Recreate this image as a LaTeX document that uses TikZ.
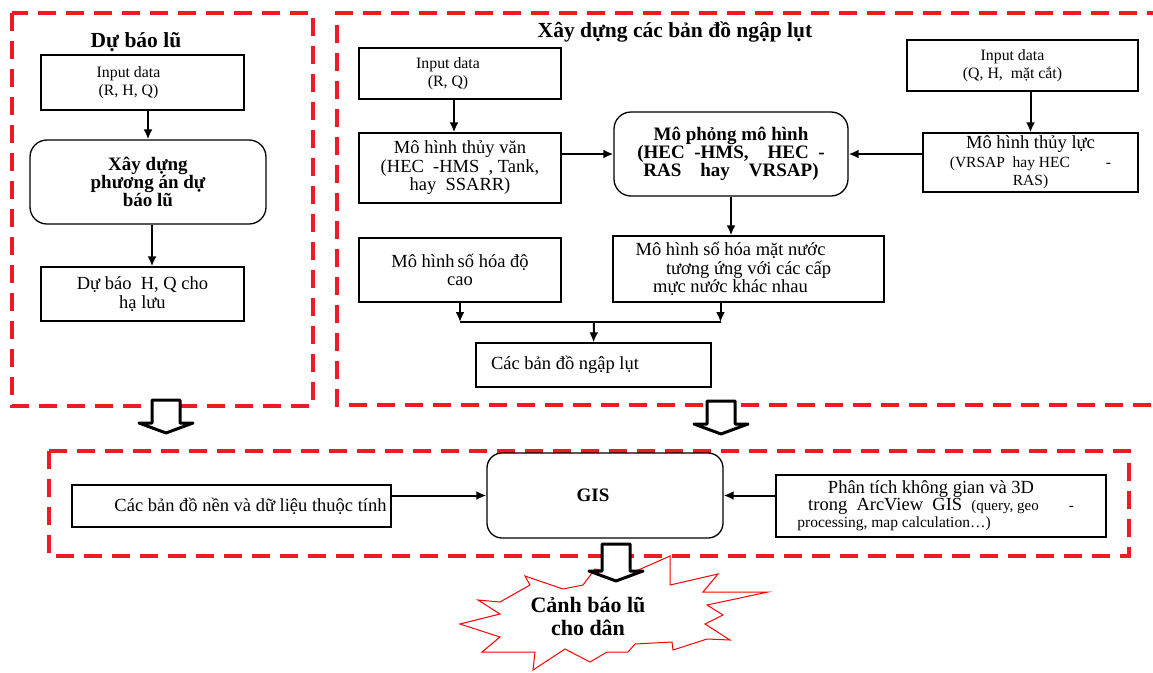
\documentclass[tikz,border=0pt]{standalone}
\usepackage{fontspec}
\setmainfont{Liberation Serif}
\usetikzlibrary{arrows.meta}
\definecolor{dashred}{RGB}{237,28,36}

\begin{document}
\begin{tikzpicture}[x=1pt,y=-1pt]
\tikzstyle{every node}=[inner sep=0pt, align=center]
\tikzstyle{box}=[draw, line width=1.3pt, font=\fontsize{18.5}{18.5}\selectfont]
\tikzstyle{inbox}=[box, font=\fontsize{15.8}{18.5}\selectfont]
\tikzstyle{rbox}=[box, rounded corners=17pt, font=\bfseries\fontsize{19}{18}\selectfont]
\tikzstyle{ttl}=[font=\bfseries\fontsize{21.5}{23}\selectfont]
\tikzstyle{zone}=[draw=dashred, line width=4pt, dash pattern=on 18pt off 10pt]
\tikzstyle{link}=[-{Latex[length=10pt,width=9pt]}, line width=2pt]
\tikzstyle{hollow}=[draw, line width=3pt, fill=white, line join=round]
\useasboundingbox (0,0) rectangle (1153,672);

% dashed zones
\draw[zone] (12,13) rectangle (313,406);
\draw[zone] (1165,13) -- (337,13) -- (337,405) -- (1165,405);
\draw[zone] (49,451) rectangle (1129,556);

% left: flood forecast
\node[ttl] (t1) at (136,42) {Dự báo lũ};
\node[inbox, minimum width=203, minimum height=55] (inRHQ) at (142.5,82.5)
  {Input data\hspace*{28pt}\\(R, H, Q)\hspace*{28pt}};
\node[rbox, minimum width=236, minimum height=84] (plan) at (148,182)
  {Xây dựng\\phương án dự\\báo lũ};
\node[box, minimum width=203, minimum height=54] (fcHQ) at (142.5,294)
  {Dự báo\enspace H, Q\ cho\\hạ lưu};
\draw[link] (plan.north |- inRHQ.south) -- (plan.north);
\draw[link] ([xshift=4pt]plan.south) -- ([xshift=4pt]plan.south |- fcHQ.north);

% right: flood maps
\node[ttl] (t2) at (675,32) {Xây dựng các bản đồ ngập lụt};
\node[inbox, minimum width=202, minimum height=51] (inRQ) at (460,73.5)
  {Input data\hspace*{24pt}\\(R, Q)\hspace*{24pt}};
\node[box, minimum width=202, minimum height=70] (hydro) at (460,168)
  {Mô hình thủy văn\\(HEC\enspace-HMS\enspace, Tank,\\hay\enspace SSARR)};
\node[rbox, minimum width=234, minimum height=84] (sim) at (731,154)
  {Mô phỏng mô hình\\(HEC\enspace-HMS,\quad HEC\enspace-\\RAS\quad hay\quad VRSAP)};
\node[inbox, minimum width=231, minimum height=51] (inQH) at (1022.5,65.5)
  {Input data\hspace*{20pt}\\(Q, H,\ \ mặt cắt)\hspace*{20pt}};
\node[box, minimum width=215, minimum height=59] (hydra) at (1030.5,162.5)
  {Mô hình thủy lực\\{\fontsize{15.5}{17}\selectfont(VRSAP\ \ hay HEC\hspace{36pt}-}\\{\fontsize{15.5}{17}\selectfont RAS)}};
\node[box, minimum width=202, minimum height=64] (dem) at (460,270)
  {Mô hình\,số hóa độ\\cao};
\node[box, minimum width=271, minimum height=66] (wsm) at (748.5,269)
  {Mô hình số hóa mặt nước\hspace*{36pt}\\tương ứng với các cấp\hspace*{36pt}\\mực nước khác nhau\hspace*{36pt}};
\node[box, minimum width=235, minimum height=44] (maps) at (593.5,365)
  {Các bản đồ ngập lụt\hspace*{57pt}};
\coordinate (jn) at (594,322);
\draw[link] (inRQ.south -| 454,0) -- (hydro.north -| 454,0);
\draw[link] (hydro.east |- sim.west) -- (sim.west);
\draw[link] (hydra.north |- inQH.south) -- (hydra.north);
\draw[link] (hydra.west |- sim.east) -- (sim.east);
\draw[link] (sim.south) -- (sim.south |- wsm.north);
\draw[line width=2pt] (dem.south |- jn) -- ([xshift=-28pt]wsm.south |- jn);
\draw[link] (dem.south) -- (dem.south |- jn);
\draw[link] ([xshift=-28pt]wsm.south) -- ([xshift=-28pt]wsm.south |- jn);
\draw[link] (jn) -- (maps.north);

% bottom: GIS
\node[box, minimum width=319, minimum height=42] (base) at (231.5,506)
  {\hspace*{38pt}Các bản đồ nền và dữ liệu thuộc tính};
\node[rbox, minimum width=236, minimum height=85, rounded corners=15pt] (gis) at (605,495.5)
  {GIS\hspace*{24pt}};
\node[box, minimum width=330, minimum height=62, font=\fontsize{18.5}{17}\selectfont] (spat) at (941,506)
  {Phân tích không gian và 3D\hspace*{20pt}\\trong\ \ ArcView\ \ GIS\ \ {\fontsize{15}{17}\selectfont(query, geo\hspace{30pt}-}\\{\fontsize{15.5}{17}\selectfont processing, map calculation…)}\hspace*{94pt}};
\draw[link] (base.east |- gis.west) -- (gis.west);
\draw[link] (spat.west |- gis.east) -- (gis.east);

% warning burst
\draw[red, line width=1pt, fill=white] (525,576) -- (563,589) -- (583,585) -- (595,569)
  -- (627,575) -- (670,556) -- (670,585) -- (718,574) -- (703,592) -- (768,592)
  -- (707,605) -- (723,615) -- (705,624) -- (730,640) -- (707,639) -- (673,650)
  -- (672,642) -- (635,644) -- (628,652) -- (607,652) -- (590,662) -- (565,649)
  -- (533,670) -- (535,652) -- (482,652) -- (500,637) -- (460,624) -- (500,614)
  -- (478,600) -- (500,602) -- (530,585) -- cycle;

% hollow arrows
\foreach \x/\y/\l in {166/400/33, 721/401/33, 616/544/37}
  \draw[hollow] (\x-14,\y) -- (\x+14,\y) -- (\x+14,\y+\l-10) -- (\x+27,\y+\l-10)
    -- (\x,\y+\l) -- (\x-27,\y+\l-10) -- (\x-14,\y+\l-10) -- cycle;

\node[font=\bfseries\fontsize{22}{23}\selectfont] (warn) at (588,616) {Cảnh báo lũ\\cho dân};
\end{tikzpicture}
\end{document}
